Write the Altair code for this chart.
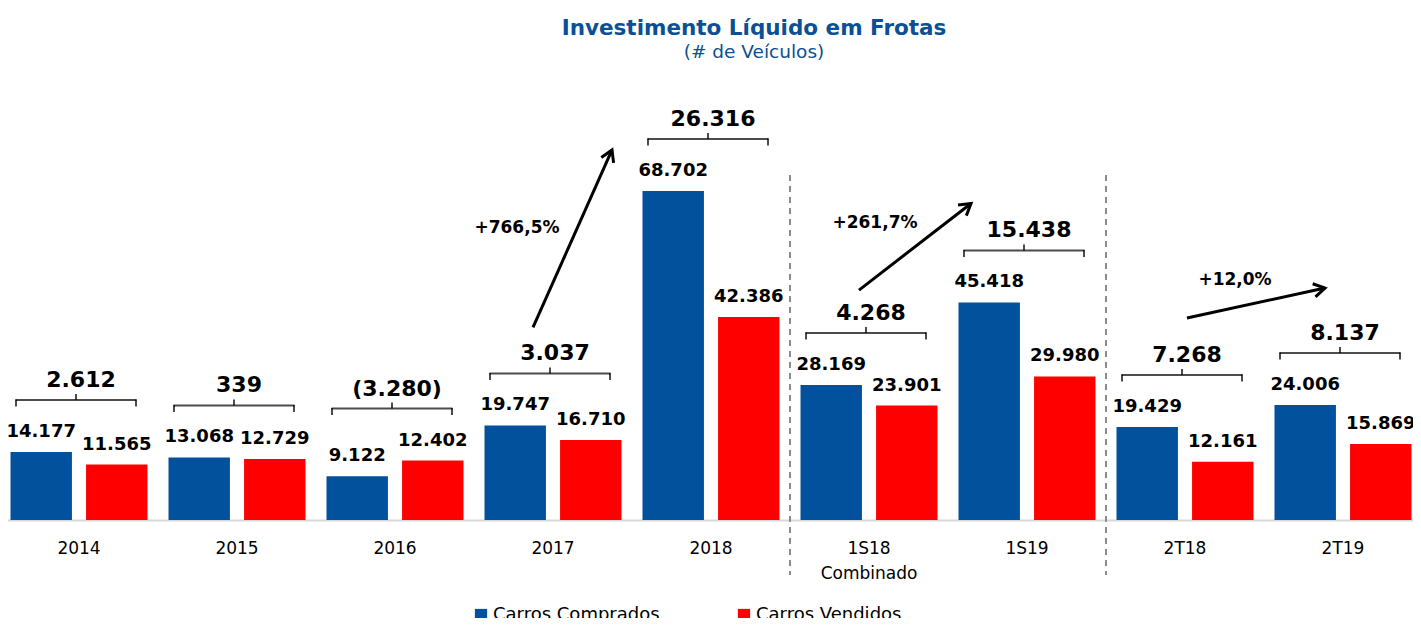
import altair as alt
import pandas as pd

FONT = "DejaVu Sans"

categories = ["2014", "2015", "2016", "2017", "2018", "1S18 Combinado", "1S19", "2T18", "2T19"]
comprados = [14177, 13068, 9122, 19747, 68702, 28169, 45418, 19429, 24006]
vendidos = [11565, 12729, 12402, 16710, 42386, 23901, 29980, 12161, 15869]
liquido = [2612, 339, -3280, 3037, 26316, 4268, 15438, 7268, 8137]
series = ["Carros Comprados", "Carros Vendidos"]
colors = ["#02519c", "#ff0000"]
separators = ["1S18 Combinado", "2T18"]
arrow_from = ["2017", "1S18 Combinado", "2T18"]
arrow_to = ["2018", "1S19", "2T19"]
arrow_pct = ["+766,5%", "+261,7%", "+12,0%"]
title_text = "Investimento Líquido em Frotas"
subtitle_text = "(# de Veículos)"


def fmt(v):
    s = f"{abs(v):,}".replace(",", ".")
    return f"({s})" if v < 0 else s


rows = []
for c, b, r in zip(categories, comprados, vendidos):
    rows.append({"cat": c, "serie": series[0], "value": b, "label": fmt(b)})
    rows.append({"cat": c, "serie": series[1], "value": r, "label": fmt(r)})
bars_df = pd.DataFrame(rows)

br_df = pd.DataFrame({
    "cat": categories,
    "top": [max(b, r) for b, r in zip(comprados, vendidos)],
    "label": [fmt(v) for v in liquido],
})
top_of = dict(zip(categories, br_df["top"]))

sep_df = pd.DataFrame({"cat": separators})

xs = alt.Scale(domain=categories, paddingInner=0.133, paddingOuter=0.0665)
ys = alt.Scale(domain=[0, 95000])
XAX = alt.Axis(labelAngle=0, labelFontSize=17, labelFont=FONT, labelColor="black",
               ticks=False, domainColor="#d9d9d9", domainWidth=2, labelPadding=20,
               labelExpr="split(datum.label, ' ')", labelLineHeight=25, title=None)


def xenc(field, **kw):
    return alt.X(field + ":N", sort=categories, scale=xs, title=None, axis=XAX, **kw)


X = xenc("cat")
Y = alt.Y("value:Q", scale=ys, axis=None)
Yt = alt.Y("top:Q", scale=ys, axis=None)
XOFF = alt.XOffset("serie:N", sort=series, scale=alt.Scale(paddingInner=0.187, paddingOuter=0))

base = alt.Chart(bars_df)
bars = base.mark_bar().encode(
    x=X,
    xOffset=XOFF,
    y=Y,
    color=alt.Color("serie:N", scale=alt.Scale(domain=series, range=colors),
                    legend=alt.Legend(title=None, orient="none", legendX=472, legendY=541,
                                      direction="horizontal", columns=2, columnPadding=75,
                                      symbolType="square", symbolSize=150, symbolStrokeWidth=0,
                                      labelFontSize=18, labelFont=FONT, labelColor="black",
                                      labelOffset=3, labelLimit=400, padding=0)),
)
bar_labels = base.mark_text(font=FONT, fontSize=18, fontWeight="bold", color="black",
                            baseline="alphabetic", yOffset=-15).encode(
    x=X, xOffset=XOFF, y=Y, text="label:N",
)

br = alt.Chart(br_df)
BY = -52
br_h = br.mark_tick(orient="horizontal", size=121, thickness=2, color="black",
                    xOffset=-3, yOffset=BY).encode(x=X, y=Yt)
br_l = br.mark_tick(orient="vertical", size=7, thickness=2, color="black",
                    xOffset=-63, yOffset=BY + 3).encode(x=X, y=Yt)
br_r = br.mark_tick(orient="vertical", size=7, thickness=2, color="black",
                    xOffset=57, yOffset=BY + 3).encode(x=X, y=Yt)
br_c = br.mark_tick(orient="vertical", size=6, thickness=2, color="black",
                    xOffset=-3, yOffset=BY - 3).encode(x=X, y=Yt)
br_t = br.mark_text(font=FONT, fontSize=22, fontWeight="bold", color="black",
                    baseline="alphabetic", xOffset=2, yOffset=BY - 13).encode(
    x=X, y=Yt, text="label:N")

seps = alt.Chart(sep_df).mark_rule(strokeDash=[6, 5], color="#8c8c8c", strokeWidth=2,
                                   xOffset=-10.5).encode(
    x=xenc("cat", bandPosition=0),
    y=alt.value(110), y2=alt.value(510))

# arrow styling: (start dx, start dy, end dx, end dy, head angle, pct dx, pct dy)
arrow_style = [
    (-20, -98, -99, -41, 24, -36, -192),
    (-10, -95, -56, -99, 52, 6, -157),
    (2, -109, -18, -117, 78, 50, -142),
]
arrow_layers = []
for f, t, p, st in zip(arrow_from, arrow_to, arrow_pct, arrow_style):
    sx, sy, ex, ey, ang, px, py = st
    adf = pd.DataFrame({"cat": [f], "t": [t], "fv": [top_of[f]], "tv": [top_of[t]], "pct": [p]})
    ac = alt.Chart(adf)
    shaft = ac.mark_rule(color="black", strokeWidth=3, xOffset=sx, yOffset=sy,
                         x2Offset=ex, y2Offset=ey).encode(
        x=xenc("cat", bandPosition=0.5),
        x2=alt.X2("t:N", bandPosition=0.5),
        y=alt.Y("fv:Q", scale=ys, axis=None),
        y2=alt.Y2("tv:Q"),
    )
    head = ac.mark_point(shape="M-0.6,1L0,0L0.6,1", size=500, filled=False, strokeWidth=3,
                         color="black", opacity=1, angle=ang, xOffset=ex, yOffset=ey).encode(
        x=xenc("t"),
        y=alt.Y("tv:Q", scale=ys, axis=None),
    )
    pct = ac.mark_text(font=FONT, fontSize=17, fontWeight="bold", color="black",
                       baseline="alphabetic", xOffset=px, yOffset=py).encode(
        x=xenc("cat"),
        y=alt.Y("fv:Q", scale=ys, axis=None),
        text="pct:N",
    )
    arrow_layers += [shaft, head, pct]

title_df = pd.DataFrame({"t": [title_text], "s": [subtitle_text]})
ttl = alt.Chart(title_df).mark_text(font=FONT, fontSize=21.5, fontWeight="bold", color="#0b4f94",
                                    baseline="alphabetic").encode(
    text="t:N", x=alt.value(754), y=alt.value(-30))
sub = alt.Chart(title_df).mark_text(font=FONT, fontSize=18.5, color="#0b4f94",
                                    baseline="alphabetic").encode(
    text="s:N", x=alt.value(754), y=alt.value(-7))

chart = alt.layer(
    bars, bar_labels, br_h, br_l, br_r, br_c, br_t, seps, *arrow_layers, ttl, sub
).properties(
    width=1422, height=455,
    autosize=alt.AutoSizeParams(type="none"),
    padding={"left": -8, "top": 57, "right": -9, "bottom": 98},
).configure_view(stroke=None)

chart.save("out.html", embed_options={"renderer": "svg", "actions": False})
